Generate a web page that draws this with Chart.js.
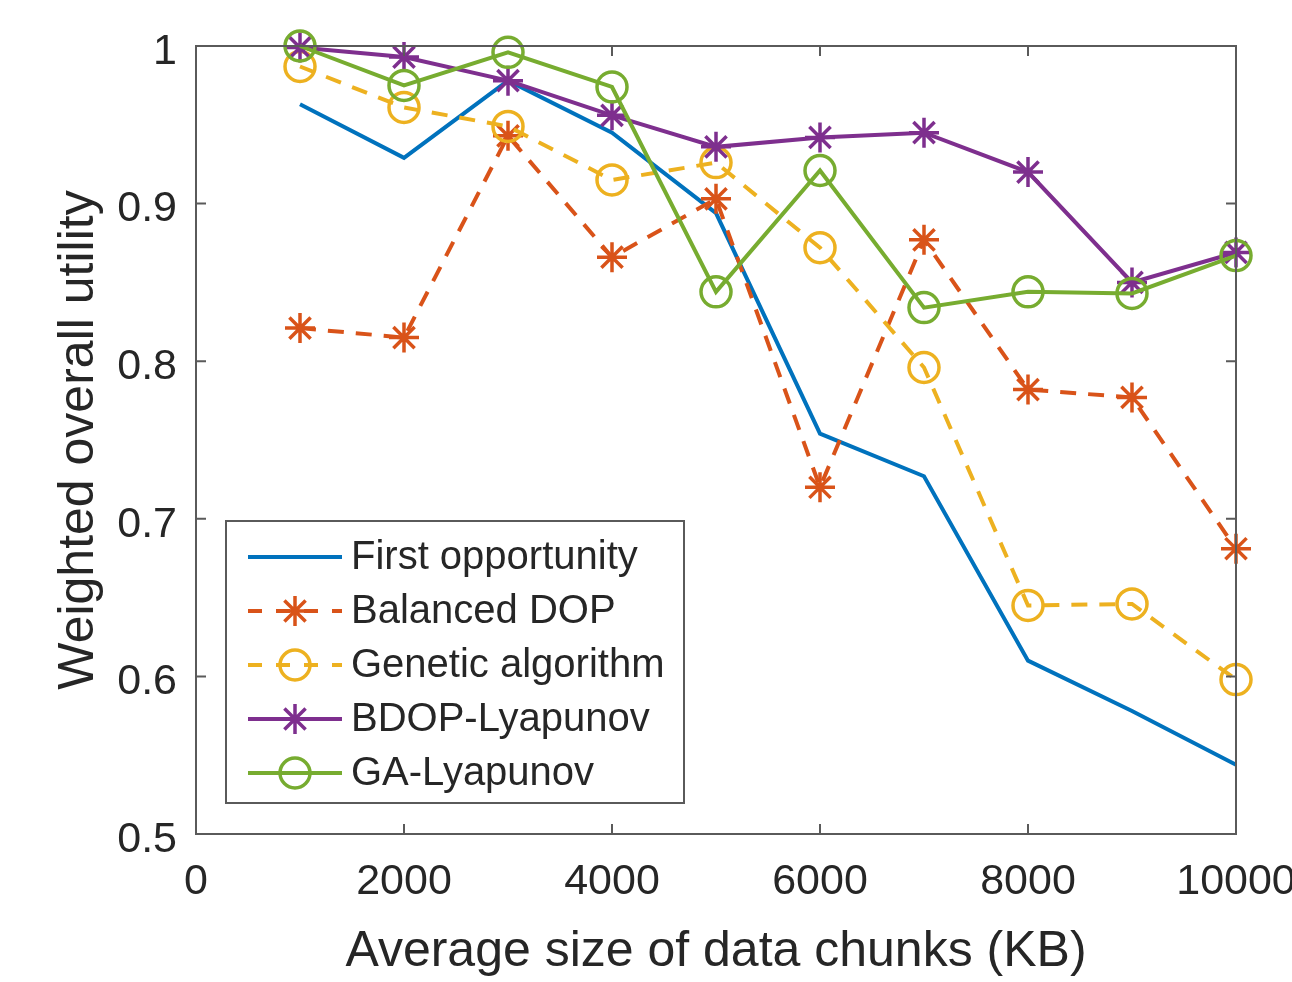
<!DOCTYPE html>
<html>
<head>
<meta charset="utf-8">
<script src="https://cdn.jsdelivr.net/npm/chart.js@4.4.0/dist/chart.umd.min.js"></script>
<style>
  html, body { margin: 0; padding: 0; background: #fff; overflow: hidden; }
  canvas { display: block; }
</style>
</head>
<body>
<canvas id="utilityChart" width="1292" height="982"></canvas>
<script>
// values
const chunkSizes = [1000, 2000, 3000, 4000, 5000, 6000, 7000, 8000, 9000, 10000];
const firstOpportunity = [0.963, 0.929, 0.978, 0.945, 0.894, 0.754, 0.727, 0.610, 0.578, 0.544];
const balancedDop      = [0.821, 0.815, 0.943, 0.866, 0.903, 0.720, 0.877, 0.782, 0.777, 0.681];
const geneticAlgorithm = [0.987, 0.961, 0.949, 0.915, 0.926, 0.872, 0.796, 0.645, 0.646, 0.598];
const bdopLyapunov     = [0.999, 0.993, 0.978, 0.956, 0.936, 0.942, 0.945, 0.920, 0.850, 0.869];
const gaLyapunov       = [1.000, 0.975, 0.996, 0.974, 0.844, 0.921, 0.834, 0.844, 0.843, 0.867];
const seriesNames = ['First opportunity', 'Balanced DOP', 'Genetic algorithm', 'BDOP-Lyapunov', 'GA-Lyapunov'];
const xTicks = [0, 2000, 4000, 6000, 8000, 10000];
const yTicks = [0.5, 0.6, 0.7, 0.8, 0.9, 1];

const FONT = "'Liberation Sans', Arial, Helvetica, sans-serif";
const TEXT = '#262626';
const AXIS = '#5a5a5a';

Chart.defaults.font.family = FONT;
Chart.defaults.color = TEXT;

function series(i, values, color, dash, marker) {
  return {
    label: seriesNames[i],
    data: chunkSizes.map((x, k) => ({x: x, y: values[k]})),
    borderColor: color,
    backgroundColor: color,
    borderWidth: 4,
    borderDash: dash,
    pointStyle: marker || 'circle',
    pointRadius: marker ? 15 : 0,
    pointBorderWidth: 3.5,
    pointBackgroundColor: 'rgba(0,0,0,0)',
    pointBorderColor: color,
    tension: 0,
    fill: false,
    clip: false,
    order: 5 - i
  };
}

const datasets = [
  series(0, firstOpportunity, '#0072BD', [], null),
  series(1, balancedDop, '#D95319', [16, 12], 'star'),
  series(2, geneticAlgorithm, '#EDB120', [16, 12], 'circle'),
  series(3, bdopLyapunov, '#7E2F8E', [], 'star'),
  series(4, gaLyapunov, '#77AC30', [], 'circle')
];

// box around the axes with inward ticks, plus the boxed legend
const framePlugin = {
  id: 'frame',
  afterDatasetsDraw(chart) {
    const {ctx, chartArea: a, scales: {x, y}} = chart;
    ctx.save();
    ctx.strokeStyle = AXIS;
    ctx.lineWidth = 2;
    ctx.strokeRect(a.left, a.top, a.right - a.left, a.bottom - a.top);
    ctx.beginPath();
    xTicks.forEach(v => {
      const px = x.getPixelForValue(v);
      ctx.moveTo(px, a.bottom); ctx.lineTo(px, a.bottom - 10);
      ctx.moveTo(px, a.top); ctx.lineTo(px, a.top + 10);
    });
    yTicks.forEach(v => {
      const py = y.getPixelForValue(v);
      ctx.moveTo(a.left, py); ctx.lineTo(a.left + 10, py);
      ctx.moveTo(a.right, py); ctx.lineTo(a.right - 10, py);
    });
    ctx.stroke();
    ctx.restore();
  },
  afterDraw(chart) {
    const {ctx, chartArea: a} = chart;
    const left = a.left + 30, top = a.top + 475, w = 458, h = 282;
    ctx.save();
    ctx.fillStyle = '#fff';
    ctx.fillRect(left, top, w, h);
    ctx.strokeStyle = AXIS;
    ctx.lineWidth = 2;
    ctx.strokeRect(left, top, w, h);
    ctx.font = '40px ' + FONT;
    ctx.textBaseline = 'middle';
    chart.data.datasets.forEach((ds, i) => {
      const cy = top + 36 + i * 54;
      const x0 = left + 22, x1 = left + 116, xm = (x0 + x1) / 2;
      ctx.strokeStyle = ds.borderColor;
      ctx.lineWidth = ds.borderWidth;
      ctx.setLineDash(ds.borderDash.length ? [14, 14] : []);
      ctx.beginPath();
      ctx.moveTo(x0, cy); ctx.lineTo(x1, cy);
      ctx.stroke();
      ctx.setLineDash([]);
      if (ds.pointRadius > 0) {
        ctx.fillStyle = 'rgba(0,0,0,0)';
        ctx.lineWidth = ds.pointBorderWidth;
        Chart.helpers.drawPoint(ctx, {pointStyle: ds.pointStyle, radius: ds.pointRadius, borderWidth: ds.pointBorderWidth, rotation: 0}, xm, cy);
      }
      ctx.fillStyle = TEXT;
      ctx.fillText(ds.label, left + 125, cy + 1);
    });
    ctx.restore();
  }
};

new Chart(document.getElementById('utilityChart'), {
  type: 'line',
  data: {datasets: datasets},
  plugins: [framePlugin],
  options: {
    responsive: false,
    animation: false,
    layout: {padding: {left: 0, right: 56, top: 46, bottom: 0}},
    plugins: {legend: {display: false}, tooltip: {enabled: false}},
    scales: {
      x: {
        type: 'linear',
        min: 0,
        max: 10000,
        grid: {display: false, drawTicks: false},
        border: {display: false},
        afterBuildTicks: s => { s.ticks = xTicks.map(v => ({value: v})); },
        afterFit: s => { s.height = 148; s.paddingLeft = 0; s.paddingRight = 0; },
        ticks: {
          font: {size: 43}, color: TEXT, padding: 22, maxRotation: 0, autoSkip: false,
          callback: v => String(v)
        },
        title: {display: true, text: 'Average size of data chunks (KB)', font: {size: 50}, color: TEXT, padding: {top: 0, bottom: 0}}
      },
      y: {
        type: 'linear',
        min: 0.5,
        max: 1,
        grid: {display: false, drawTicks: false},
        border: {display: false},
        afterBuildTicks: s => { s.ticks = yTicks.map(v => ({value: v})); },
        afterFit: s => { s.width = 196; },
        ticks: {
          font: {size: 43}, color: TEXT, padding: 19, labelOffset: 6,
          callback: v => String(Number(v.toFixed(1)))
        },
        title: {display: true, text: 'Weighted overall utility', font: {size: 50}, color: TEXT, padding: {top: 49, bottom: 0}}
      }
    }
  }
});
</script>
</body>
</html>
